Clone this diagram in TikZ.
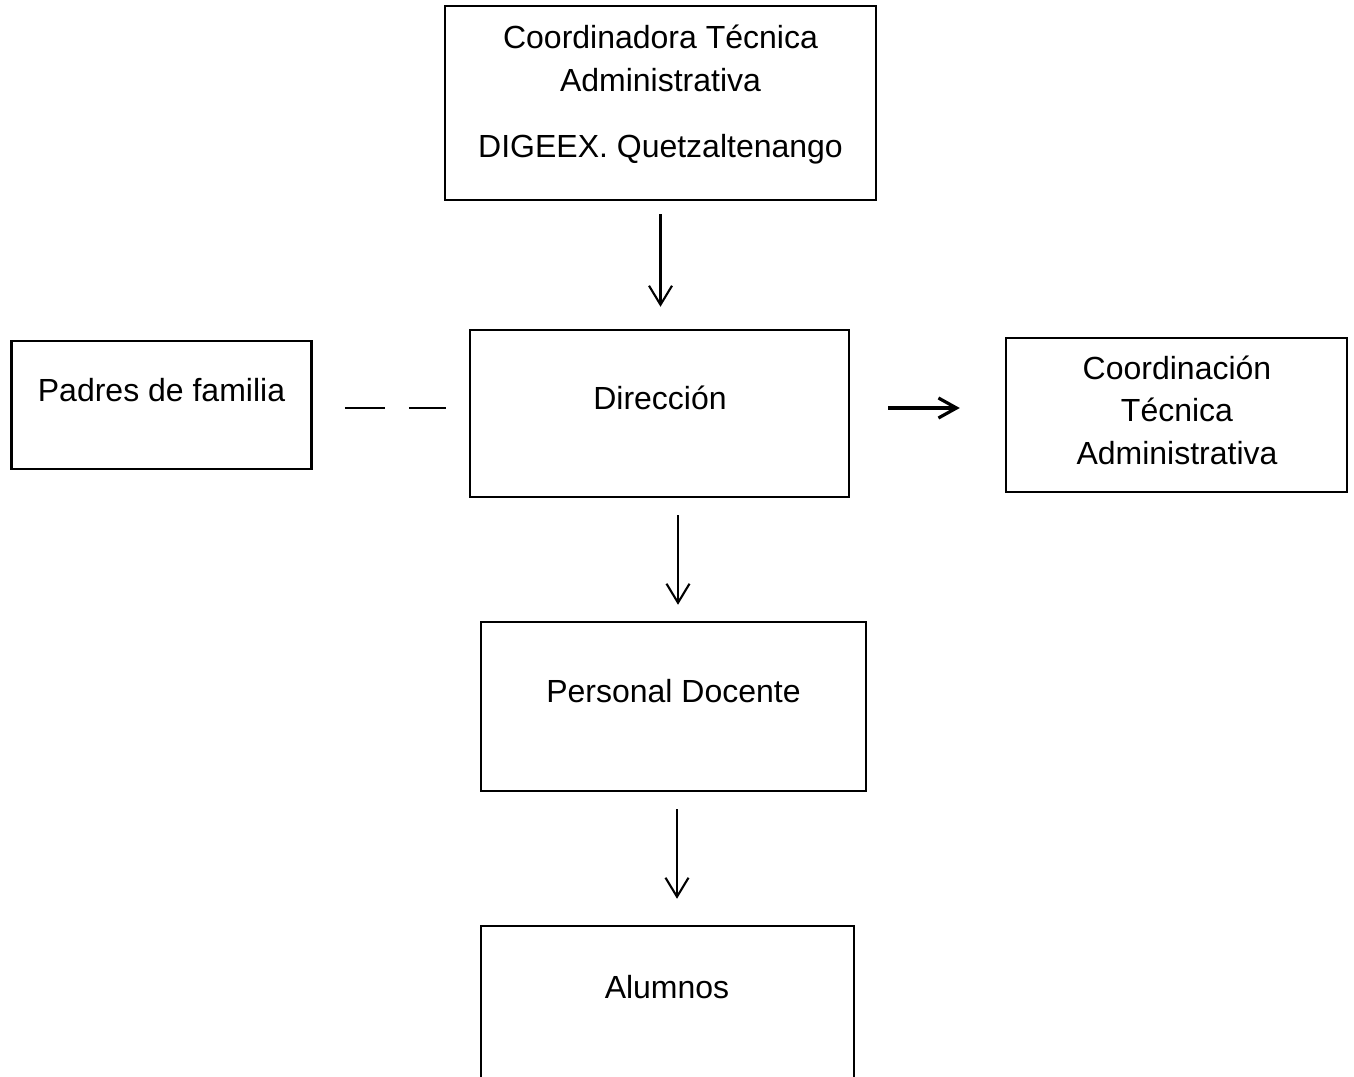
\documentclass[tikz,border=0pt]{standalone}
\usepackage{fontspec}
\setmainfont{Liberation Sans}
\usetikzlibrary{arrows.meta}

\begin{document}
\begin{tikzpicture}[x=0.5pt,y=-0.5pt]
  \tikzstyle{every node}+=[inner sep=0pt]
  \tikzstyle{box}=[draw,line width=1.25pt,rectangle]
  \tikzstyle{txt}=[align=center,font=\fontsize{16}{21.3}\selectfont]
  \tikzstyle{arr}=[line width=1.05pt,-{Straight Barb[length=9.5pt,width=11.5pt]}]
  \clip (0,0) rectangle (1354,1076);
  % boxes
  \node [box,minimum width=215.5pt,minimum height=97pt] (coord) at (660.5,103) {};
  \node [txt] (coordA) at (660.5,58.5) {Coordinadora Técnica\\Administrativa};
  \node [txt] (coordB) at (660.5,149) {DIGEEX. Quetzaltenango};
  \node [box,minimum width=150pt,minimum height=64pt] (padres) at (161.5,405) {};
  \node [txt] (padresT) at (161.5,390) {Padres de familia};
  \node [box,minimum width=189.5pt,minimum height=83.5pt] (dir) at (659.5,413.5) {};
  \node [txt] (dirT) at (660,398) {Dirección};
  \node [box,minimum width=170.5pt,minimum height=77pt] (cta) at (1176.5,415) {};
  \node [txt] (ctaT) at (1177,410) {Coordinación\\Técnica\\Administrativa};
  \node [box,minimum width=192.5pt,minimum height=84.5pt] (doc) at (673.5,706.5) {};
  \node [txt] (docT) at (673.5,691) {Personal Docente};
  \node [box,minimum width=186.5pt,minimum height=100pt] (alum) at (667.5,1026) {};
  \node [txt] (alumT) at (667,987) {Alumnos};
  % connectors
  \draw [arr,shorten <=6.5pt,shorten >=11pt] (coord.south) -- (coord.south |- dir.north);
  \draw [arr,shorten <=8.5pt,shorten >=8pt] ([xshift=9.25pt]dir.south) -- ([xshift=9.25pt]dir.south |- doc.north);
  \draw [arr,shorten <=8.5pt,shorten >=13pt] ([xshift=1.75pt]doc.south) -- ([xshift=1.75pt]doc.south |- alum.north);
  \path ([yshift=2.75pt]dir.west) coordinate (dl);
  \draw [line width=1.05pt,dash pattern=on 20pt off 12pt,shorten <=16pt,shorten >=11.5pt] (padres.east |- dl) -- (dl);
  \path ([yshift=2.75pt]dir.east) coordinate (dr);
  \draw [line width=1.6pt,-{Straight Barb[length=9pt,width=10pt]},shorten <=19pt,shorten >=22.5pt] (dr) -- (cta.west |- dr);
\end{tikzpicture}
\end{document}
